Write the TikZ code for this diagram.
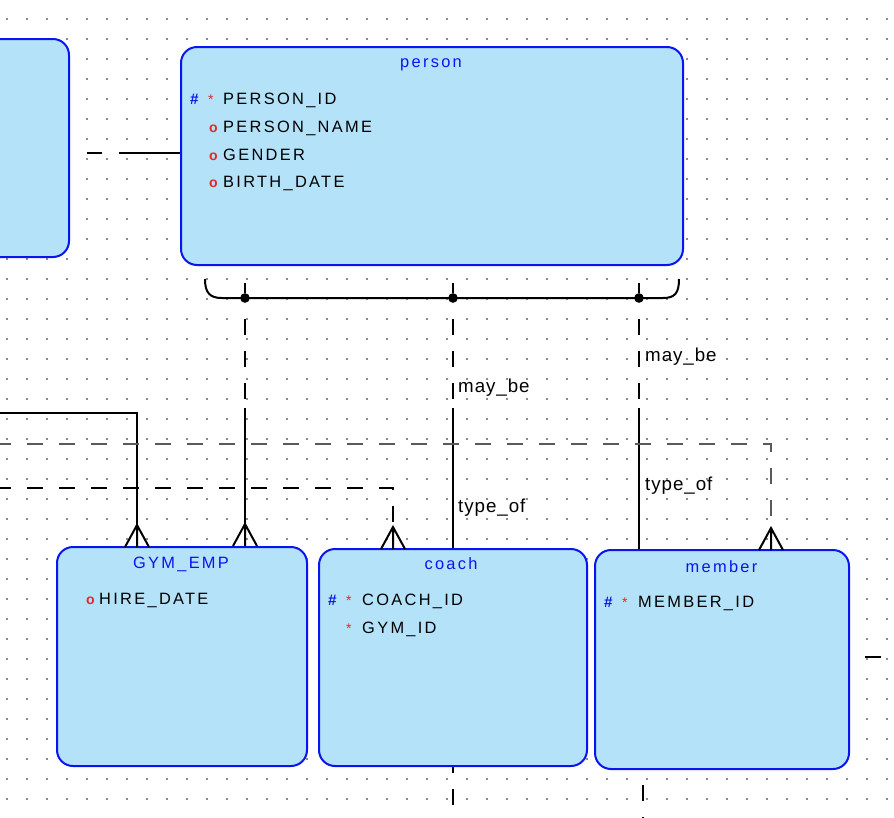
\documentclass[tikz,border=0pt]{standalone}
\usepackage{fontspec}
\setmainfont{Liberation Sans}
\newfontfamily\erfont[LetterSpace=14]{Liberation Sans}
\newfontfamily\relfont[LetterSpace=5]{Liberation Sans}
\usetikzlibrary{calc,fit,positioning}
\definecolor{erfill}{RGB}{180,227,249}
\definecolor{erblue}{RGB}{10,20,240}
\definecolor{erred}{RGB}{225,40,40}
\definecolor{griddot}{RGB}{140,140,140}

\tikzset{
  entity/.style={draw=erblue,fill=erfill,line width=0.6mm,rounded corners=4.8mm,inner sep=0pt},
  entname/.style={text=erblue,font=\erfont\fontsize{14}{16}\selectfont,anchor=base,inner sep=0pt},
  attr/.style={font=\erfont\fontsize{14}{16}\selectfont,anchor=base west,inner sep=0pt},
  keymark/.style={text=erblue,font=\bfseries\fontsize{13}{16}\selectfont,anchor=base west,inner sep=0pt},
  reqmark/.style={text=erred,font=\fontsize{12}{14}\selectfont,anchor=base west,inner sep=0pt},
  optmark/.style={text=erred,font=\bfseries\fontsize{12}{14}\selectfont,anchor=base west,inner sep=0pt},
  rellabel/.style={font=\relfont\fontsize{16}{18}\selectfont,anchor=base west,inner sep=0pt},
  relline/.style={line width=0.6mm},
  reldash/.style={relline,dash pattern=on 4.8mm off 4.8mm},
  junction/.style={circle,fill=black,inner sep=0pt,minimum size=2.9mm},
  crow/.pic={\draw[relline] (-12,0) -- (0,-22) -- (12,0) (0,-22) -- (0,0);}
}

\begin{document}
\begin{tikzpicture}[x=0.3mm,y=-0.3mm]
  \useasboundingbox (0,0) rectangle (894,818);
  \fill[white] (0,0) rectangle (894,818);
  % grid
  \foreach \i in {0,...,44}
    \foreach \j in {0,...,40}
      \fill[griddot] ({5.7+20*\i},{17.7+20*\j}) rectangle ++(2,2);

  % entities
  \node[entity,fit={(-30,39) (69,257)}] (leftent) {};
  \node[entity,fit={(181,47) (683,265)}] (person) {};
  \node[entity,fit={(57,547) (307,766)}] (gymemp) {};
  \node[entity,fit={(319,549) (587,766)}] (coach) {};
  \node[entity,fit={(595,550) (849,769)}] (member) {};

  \node[entname] (personname) at (431,67.5) {person};
  \node[keymark] (pkey) at (190,104) {\#};
  \node[reqmark] (preq) at (208,104) {*};
  \node[attr] (pid) at (223,104) {PERSON\_ID};
  \node[optmark] (popt1) at (209,132) {o};
  \node[attr] (pname) at (223,132) {PERSON\_NAME};
  \node[optmark] (popt2) at (209,160) {o};
  \node[attr] (pgender) at (223,160) {GENDER};
  \node[optmark] (popt3) at (209,187) {o};
  \node[attr] (pbirth) at (223,187) {BIRTH\_DATE};

  \node[entname] (gymname) at (181,568) {GYM\_EMP};
  \node[optmark] (gopt) at (86,604) {o};
  \node[attr] (ghire) at (99,604) {HIRE\_DATE};

  \node[entname] (coachname) at (451,569) {coach};
  \node[keymark] (ckey) at (328,605) {\#};
  \node[reqmark] (creq1) at (346,605) {*};
  \node[attr] (cid) at (362,605) {COACH\_ID};
  \node[reqmark] (creq2) at (346,633) {*};
  \node[attr] (cgym) at (362,633) {GYM\_ID};

  \node[entname] (membername) at (721.5,572) {member};
  \node[keymark] (mkey) at (604,607) {\#};
  \node[reqmark] (mreq) at (622,607) {*};
  \node[attr] (mid) at (638,607) {MEMBER\_ID};

  % subtype bar
  \node[junction] (j1) at (245,298) {};
  \node[junction] (j2) at (453,298) {};
  \node[junction] (j3) at (639,298) {};
  \coordinate (barL) at (205,279);
  \coordinate (barR) at (679,279);
  \draw[relline] (barL) .. controls +(0,14) and +(-12,0) .. (222,298) -- (663,298) .. controls +(12,0) and +(0,14) .. (barR);
  \foreach \j in {j1,j2,j3}
    \draw[relline] (\j) -- ++(0,-15);

  \coordinate (m1) at (245,408);
  \coordinate (m2) at (453,408);
  \coordinate (m3) at (639,408);
  \draw[reldash,dash phase=4.8mm] (j1) -- (m1);
  \draw[reldash,dash phase=4.8mm] (j2) -- (m2);
  \draw[reldash,dash phase=4.8mm] (j3) -- (m3);
  \draw[relline] (m1) -- (m1 |- gymemp.north);
  \draw[relline] (m2) -- (m2 |- coach.north);
  \draw[relline] (m3) -- (m3 |- member.north);
  \pic at (m1 |- gymemp.north) {crow};

  \node[rellabel] (maybe1) at (458,392) {may\_be};
  \node[rellabel] (typeof1) at (458,512) {type\_of};
  \node[rellabel] (maybe2) at (645,361) {may\_be};
  \node[rellabel] (typeof2) at (645,490) {type\_of};

  % lines coming in from the left
  \coordinate (l1) at (-5,413);
  \coordinate (l2) at (-5,444);
  \coordinate (l3) at (-5,488);
  \coordinate (g1) at (137,547);
  \coordinate (c1) at (393,549);
  \coordinate (r1) at (771,550);
  \draw[relline] (l1) -| (g1);
  \pic at (g1) {crow};
  \draw[reldash,draw=black!65] (l2) -| (r1);
  \pic at (r1) {crow};
  \draw[reldash] (l3) -| (c1);
  \pic at (c1) {crow};

  % stubs to entities outside the view
  \coordinate (t0) at (69,153);
  \coordinate (t1) at (119,153);
  \draw[relline,dash pattern=on 4.5mm off 5.4mm,dash phase=4.5mm] (t0) -- (t1);
  \draw[relline] (t1) -- (t1 -| person.west);
  \coordinate (e0) at (849,657);
  \coordinate (e1) at (905,657);
  \draw[reldash,dash phase=4.8mm] (e0) -- (e1);
  \coordinate (b1) at (643,769);
  \draw[reldash,dash phase=3mm] (coach.south -| j2) -- ++(0,70);
  \draw[reldash,dash phase=4.8mm] (b1) -- ++(0,70);
\end{tikzpicture}
\end{document}
